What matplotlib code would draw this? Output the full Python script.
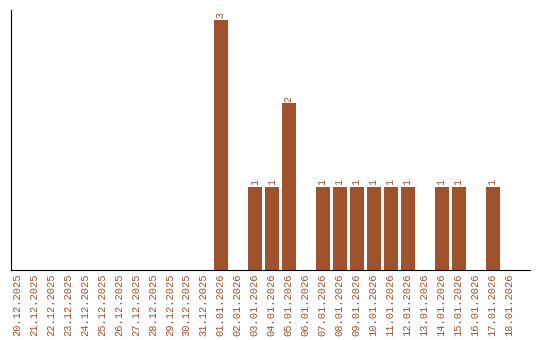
import matplotlib.pyplot as plt

dates = ['20.12.2025', '21.12.2025', '22.12.2025', '23.12.2025', '24.12.2025',
         '25.12.2025', '26.12.2025', '27.12.2025', '28.12.2025', '29.12.2025',
         '30.12.2025', '31.12.2025', '01.01.2026', '02.01.2026', '03.01.2026',
         '04.01.2026', '05.01.2026', '06.01.2026', '07.01.2026', '08.01.2026',
         '09.01.2026', '10.01.2026', '11.01.2026', '12.01.2026', '13.01.2026',
         '14.01.2026', '15.01.2026', '16.01.2026', '17.01.2026', '18.01.2026']
counts = [0, 0, 0, 0, 0, 0, 0, 0, 0, 0, 0, 0, 3, 0, 1, 1, 2, 0, 1, 1,
          1, 1, 1, 1, 0, 1, 1, 0, 1, 0]

color = '#a0522d'
plt.rcParams['font.family'] = ['Liberation Mono', 'DejaVu Sans Mono']

fig = plt.figure(figsize=(5.4, 3.4), dpi=100)
ax = fig.add_axes([11 / 540, 70 / 340, 519 / 540, 260 / 340])

x = list(range(len(dates)))
ax.bar(x, counts, width=0.82, color=color)
for xi, c in zip(x, counts):
    if c:
        ax.text(xi, c + 0.02, str(c), rotation=90, ha='center', va='bottom',
                fontsize=7, color=color)

ax.set_xlim(-0.35, 30.2)
ax.set_ylim(0, 3.12)
ax.set_xticks(x)
ax.set_xticklabels(dates, rotation=90, fontsize=7.5, color=color)
ax.tick_params(axis='x', length=0, pad=2.5)
ax.set_yticks([])
ax.spines['top'].set_visible(False)
ax.spines['right'].set_visible(False)

fig.savefig('out.png')
